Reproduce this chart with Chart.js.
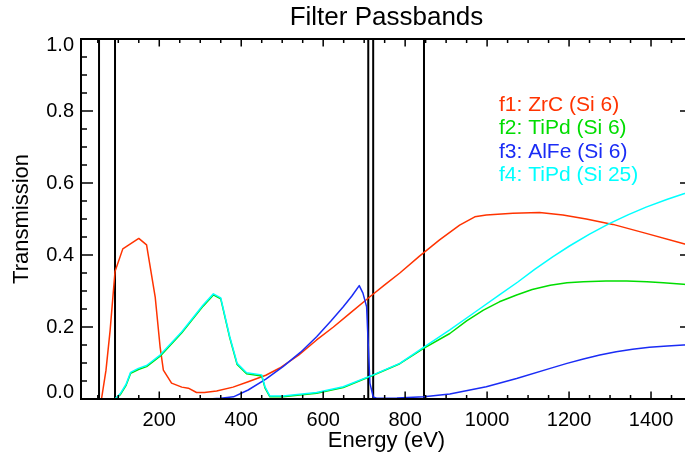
<!DOCTYPE html>
<html>
<head>
<meta charset="utf-8">
<script src="https://cdn.jsdelivr.net/npm/chart.js@4/dist/chart.umd.min.js"></script>
<style>
  html, body { margin: 0; padding: 0; background: #fff; overflow: hidden; }
</style>
</head>
<body>
<canvas id="passbandChart" width="700" height="457"></canvas>
<script>
// filter transmission curves (energy in eV)
const f1Energy = [10, 59, 70, 80, 92, 111, 150, 169, 190, 202, 210, 230, 255, 271, 291, 310, 340, 380, 417, 460, 494, 540, 584, 625, 665, 714, 750, 787, 835, 884, 933, 970, 998, 1063, 1128, 1185, 1242, 1307, 1388, 1480, 1500];
const f1Trans = [0, 0, 0.08, 0.19, 0.354, 0.417, 0.446, 0.428, 0.284, 0.145, 0.08, 0.044, 0.033, 0.03, 0.018, 0.018, 0.022, 0.033, 0.048, 0.066, 0.086, 0.122, 0.164, 0.2, 0.238, 0.284, 0.317, 0.35, 0.397, 0.442, 0.483, 0.506, 0.511, 0.516, 0.518, 0.511, 0.5, 0.485, 0.46, 0.431, 0.425];

const f2Energy = [10, 92, 105, 119, 130, 149, 169, 202, 255, 307, 332, 350, 372, 390, 413, 450, 458, 470, 502, 584, 649, 722, 787, 844, 909, 950, 991, 1030, 1072, 1110, 1154, 1195, 1235, 1290, 1341, 1390, 1430, 1479, 1500];
const f2Trans = [0, 0, 0.012, 0.038, 0.071, 0.082, 0.09, 0.119, 0.184, 0.258, 0.289, 0.278, 0.17, 0.096, 0.07, 0.064, 0.031, 0.006, 0.006, 0.016, 0.032, 0.066, 0.098, 0.14, 0.182, 0.217, 0.247, 0.27, 0.289, 0.304, 0.316, 0.323, 0.326, 0.328, 0.328, 0.326, 0.323, 0.319, 0.317];

const f3Energy = [10, 320, 350, 381, 417, 460, 502, 545, 584, 620, 649, 670, 688, 697, 706, 710, 714, 722, 730, 780, 846, 909, 998, 1072, 1154, 1195, 1235, 1275, 1315, 1355, 1396, 1440, 1479, 1500];
const f3Trans = [0, 0, 0.002, 0.006, 0.025, 0.055, 0.09, 0.13, 0.173, 0.218, 0.256, 0.286, 0.315, 0.294, 0.256, 0.15, 0.044, 0.006, 0.002, 0.003, 0.006, 0.014, 0.034, 0.057, 0.085, 0.099, 0.111, 0.122, 0.131, 0.138, 0.144, 0.147, 0.15, 0.151];

const f4Energy = [10, 92, 105, 119, 130, 149, 169, 202, 255, 307, 332, 350, 372, 390, 413, 450, 458, 470, 502, 584, 649, 722, 787, 844, 909, 970, 1030, 1075, 1116, 1160, 1201, 1250, 1298, 1345, 1388, 1440, 1480, 1500];
const f4Trans = [0, 0, 0.015, 0.041, 0.074, 0.085, 0.093, 0.122, 0.187, 0.261, 0.292, 0.281, 0.173, 0.099, 0.073, 0.067, 0.034, 0.008, 0.008, 0.018, 0.034, 0.067, 0.099, 0.143, 0.192, 0.241, 0.289, 0.325, 0.36, 0.395, 0.425, 0.458, 0.487, 0.512, 0.533, 0.555, 0.57, 0.576];

// absorption edges drawn as black vertical lines
const edgeEnergies = [53, 92, 710, 722, 846];

const filterLabels = ["f1: ZrC (Si 6)", "f2: TiPd (Si 6)", "f3: AlFe (Si 6)", "f4: TiPd (Si 25)"];
const filterColors = ["#ff3300", "#00dd00", "#1a2cf5", "#00ffff"];

const xTicks = [200, 400, 600, 800, 1000, 1200, 1400];
const yTicks = [0, 0.2, 0.4, 0.6, 0.8, 1.0];
const yTickLabels = ["0.0", "0.2", "0.4", "0.6", "0.8", "1.0"];

const X_MIN = 9;
const X_MAX = 1500;
const FONT = "'Liberation Sans', Arial, sans-serif";

function toPoints(xs, ys) {
  return xs.map((x, i) => ({ x: x, y: ys[i] }));
}

const curves = [
  [f1Energy, f1Trans],
  [f2Energy, f2Trans],
  [f3Energy, f3Trans],
  [f4Energy, f4Trans],
];

const datasets = curves.map((c, i) => ({
  label: filterLabels[i],
  data: toPoints(c[0], c[1]),
  borderColor: filterColors[i],
  borderWidth: 1.5,
  order: 4 - i,
}));

edgeEnergies.forEach((e) => {
  datasets.push({
    label: "",
    data: [{ x: e, y: 0 }, { x: e, y: 1 }],
    borderColor: "#000",
    borderWidth: 2,
    order: 10,
  });
});

// frame with inward ticks on all four sides, plus the coloured text legend
const frameTicks = {
  id: "frameTicks",
  afterDatasetsDraw(chart) {
    const { ctx, chartArea: a, scales: { x, y } } = chart;
    ctx.save();
    ctx.strokeStyle = "#000";
    ctx.lineWidth = 1.5;
    ctx.beginPath();
    for (let v = 50; v < X_MAX; v += 50) {
      const px = x.getPixelForValue(v);
      if (px <= a.left) continue;
      const len = v % 200 === 0 ? 7.5 : 4;
      ctx.moveTo(px, a.bottom);
      ctx.lineTo(px, a.bottom - len);
      ctx.moveTo(px, a.top);
      ctx.lineTo(px, a.top + len);
    }
    for (let i = 1; i < 20; i++) {
      const py = y.getPixelForValue(i * 0.05);
      const len = i % 4 === 0 ? 12 : 6;
      ctx.moveTo(a.left, py);
      ctx.lineTo(a.left + len, py);
      ctx.moveTo(a.right, py);
      ctx.lineTo(a.right - len, py);
    }
    ctx.stroke();
    ctx.lineWidth = 2;
    ctx.strokeRect(a.left, a.top, a.right - a.left, a.bottom - a.top);

    ctx.font = "21px " + FONT;
    ctx.textBaseline = "alphabetic";
    filterLabels.forEach((t, i) => {
      ctx.fillStyle = filterColors[i];
      ctx.fillText(t, a.left + 418, a.top + 71.7 + i * 23.4);
    });
    ctx.restore();
  },
};

Chart.defaults.font.family = FONT;
Chart.defaults.color = "#000";

const ctx = document.getElementById("passbandChart").getContext("2d");
new Chart(ctx, {
  type: "scatter",
  data: { datasets: datasets },
  plugins: [frameTicks],
  options: {
    responsive: false,
    animation: false,
    showLine: true,
    elements: {
      point: { radius: 0, hoverRadius: 0 },
      line: { tension: 0, fill: false, borderJoinStyle: "round" },
    },
    layout: { padding: { right: 8 } },
    plugins: {
      legend: { display: false },
      tooltip: { enabled: false },
      title: {
        display: true,
        text: "Filter Passbands",
        fullSize: false,
        color: "#000",
        font: { size: 26, weight: "normal" },
        padding: { top: 2, bottom: 5.8 },
      },
    },
    scales: {
      x: {
        type: "linear",
        min: X_MIN,
        max: X_MAX,
        afterBuildTicks: (s) => { s.ticks = xTicks.map((v) => ({ value: v })); },
        afterFit: (s) => { s.height = 58; },
        grid: { display: false, drawTicks: false },
        border: { display: false },
        ticks: {
          padding: 9,
          color: "#000",
          font: { size: 20 },
          maxRotation: 0,
          callback: (v) => String(v),
        },
        title: {
          display: true,
          text: "Energy (eV)",
          color: "#000",
          font: { size: 22 },
          padding: { top: 0, bottom: 3 },
        },
      },
      y: {
        min: 0,
        max: 1,
        afterBuildTicks: (s) => { s.ticks = yTicks.map((v) => ({ value: v })); },
        afterFit: (s) => { s.width = 81; },
        grid: { display: false, drawTicks: false },
        border: { display: false },
        ticks: {
          padding: 7,
          color: "#000",
          // end labels sit just inside the frame, as in the original plot
          font: (c) => ({ size: 20, lineHeight: c.tick && c.tick.value === 1 ? 0.6 : 0.7 }),
          callback: (v, i) => {
            const label = yTickLabels[i];
            if (i === yTicks.length - 1) return ["", label];
            if (i === 0) return [label, ""];
            return label;
          },
        },
        title: {
          display: true,
          text: "Transmission",
          color: "#000",
          font: { size: 22 },
          padding: { top: 9, bottom: 0 },
        },
      },
    },
  },
});
</script>
</body>
</html>
